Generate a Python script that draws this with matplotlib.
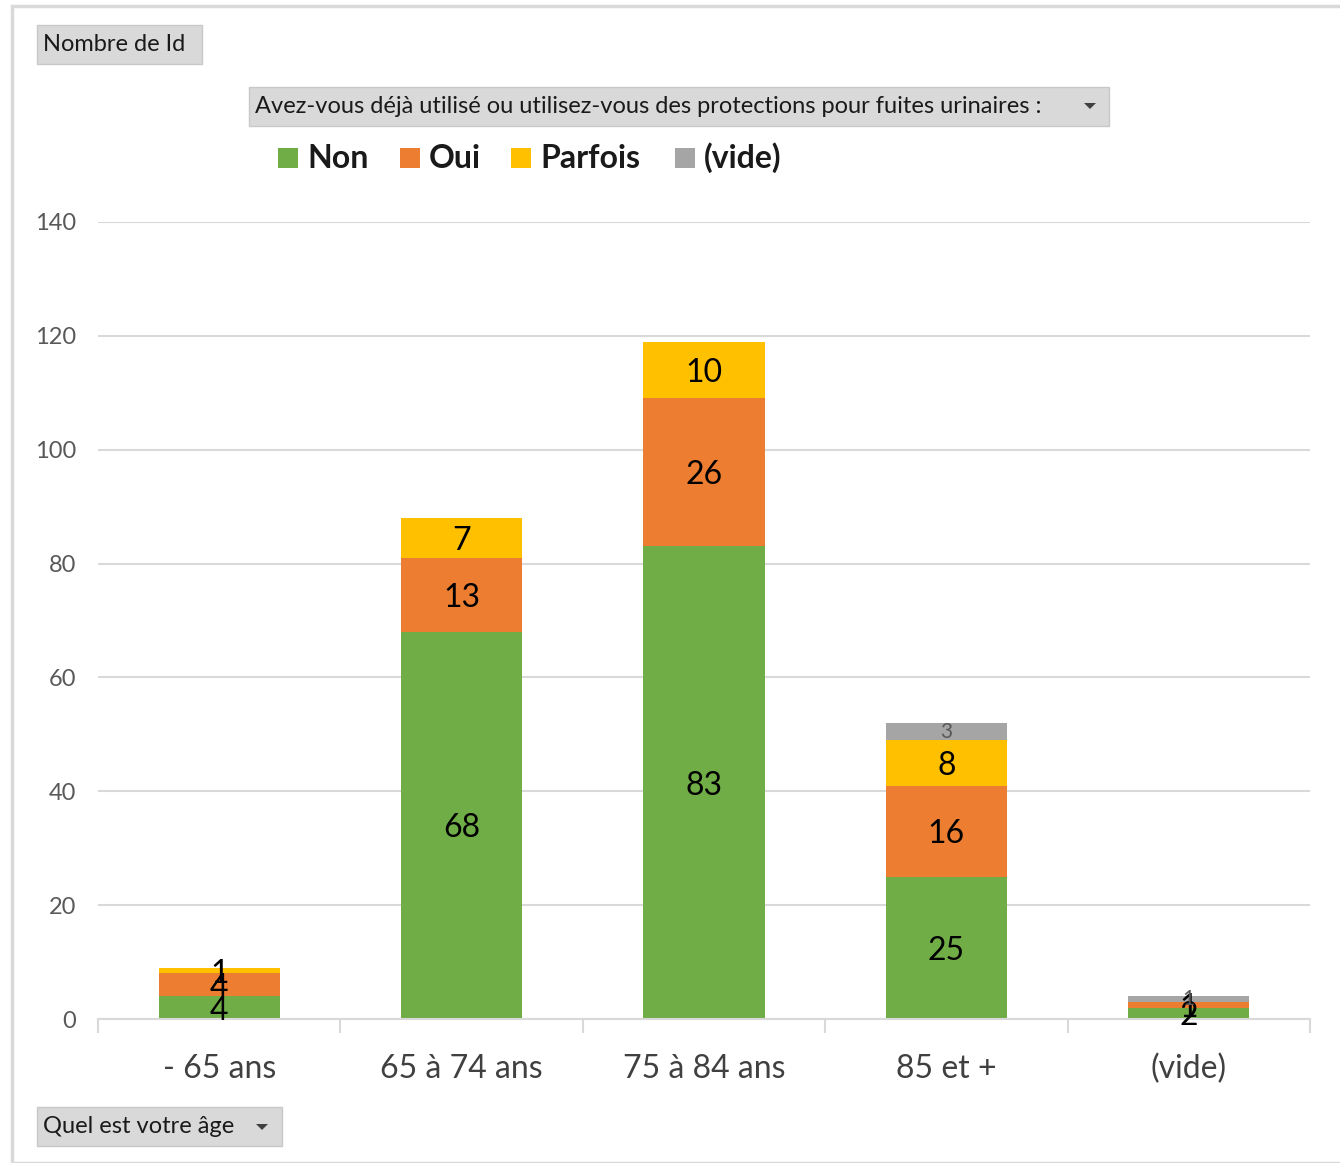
import numpy as np
import matplotlib.pyplot as plt
from matplotlib.patches import Rectangle, Polygon

# DATA
categories = ["- 65 ans", "65 à 74 ans", "75 à 84 ans", "85 et +", "(vide)"]
series_names = ["Non", "Oui", "Parfois", "(vide)"]
non = [4, 68, 83, 25, 2]
oui = [4, 13, 26, 16, 1]
parfois = [1, 7, 10, 8, 0]
vide = [0, 0, 0, 3, 1]
colors = ["#70ad47", "#ed7d31", "#ffc000", "#a5a5a5"]
yticks = [0, 20, 40, 60, 80, 100, 120, 140]

plt.rcParams['font.family'] = ['Lato', 'DejaVu Sans']

fig = plt.figure(figsize=(13.4, 11.63), dpi=100)
W, H = 1340, 1163

def fx(px):
    return px / W

def fy(py):
    return 1 - py / H

ax = fig.add_axes([fx(98), fy(1019), fx(1310) - fx(98), fy(222) - fy(1019)])

x = np.arange(len(categories))
bottom = np.zeros(len(categories))
for name, vals, col in zip(series_names, [non, oui, parfois, vide], colors):
    vals = np.array(vals, dtype=float)
    ax.bar(x, vals, width=0.5, bottom=bottom, color=col, zorder=2)
    for xi, v, b in zip(x, vals, bottom):
        if v > 0:
            if name == "(vide)":
                ax.text(xi, b + v / 2, f"{int(v)}", ha="center", va="center",
                        fontsize=15, color="#595959", zorder=3)
            else:
                ax.text(xi, b + v / 2, f"{int(v)}", ha="center", va="center_baseline",
                        fontsize=23, color="black", zorder=3)
    bottom += vals

ax.set_xlim(-0.5, len(categories) - 0.5)
ax.set_ylim(0, 140)
ax.set_yticks(yticks)
ax.set_yticklabels([str(t) for t in yticks], fontsize=17, color="#595959")
ax.yaxis.grid(True, color="#d9d9d9", linewidth=1.5, zorder=0)
ax.set_axisbelow(True)
ax.tick_params(axis="y", length=0, pad=16)
ax.set_xticks(x)
ax.set_xticklabels(categories, fontsize=23, color="#404040")
ax.tick_params(axis="x", length=0, pad=25)
# category boundary ticks
ax.set_xticks(np.arange(-0.5, len(categories)), minor=True)
ax.tick_params(axis="x", which="minor", length=10, color="#d9d9d9", width=1.5)
for s in ["top", "right", "left"]:
    ax.spines[s].set_visible(False)
ax.spines["bottom"].set_color("#d9d9d9")
ax.spines["bottom"].set_linewidth(1.5)

# outer border
fig.patches.append(Rectangle((fx(12), fy(1163)), 1.2, fy(6) - fy(1163),
                             transform=fig.transFigure, fill=False,
                             edgecolor="#d9d9d9", linewidth=2.5))

def button(x0, y0, x1, y1, text, arrow=None):
    fig.patches.append(Rectangle((fx(x0), fy(y1)), fx(x1) - fx(x0), fy(y0) - fy(y1),
                                 transform=fig.transFigure, facecolor="#d9d9d9",
                                 edgecolor="#c8c8c8", linewidth=1))
    fig.text(fx(x0 + 6), fy((y0 + y1) / 2), text, ha="left", va="center",
             fontsize=17, color="#1a1a1a")
    if arrow is not None:
        ax_x, ax_y = arrow
        fig.patches.append(Polygon([(fx(ax_x - 6), fy(ax_y - 3)), (fx(ax_x + 6), fy(ax_y - 3)),
                                    (fx(ax_x), fy(ax_y + 3))], closed=True,
                                   transform=fig.transFigure, facecolor="#404040",
                                   edgecolor="none"))

button(37, 25, 202, 64, "Nombre de Id")
button(249, 87, 1109, 126, "Avez-vous déjà utilisé ou utilisez-vous des protections pour fuites urinaires :",
       arrow=(1090, 106))
button(37, 1107, 282, 1146, "Quel est votre âge", arrow=(262, 1127))

# legend
leg_x = [278, 400, 511, 675]
for lx, name, col in zip(leg_x, series_names, colors):
    fig.patches.append(Rectangle((fx(lx), fy(168)), fx(20), fy(148) - fy(168),
                                 transform=fig.transFigure, facecolor=col, edgecolor="none"))
    fig.text(fx(lx + 29), fy(158), name, ha="left", va="center",
             fontsize=23, fontweight="bold", color="#1a1a1a")

fig.savefig("out.png", dpi=100)
